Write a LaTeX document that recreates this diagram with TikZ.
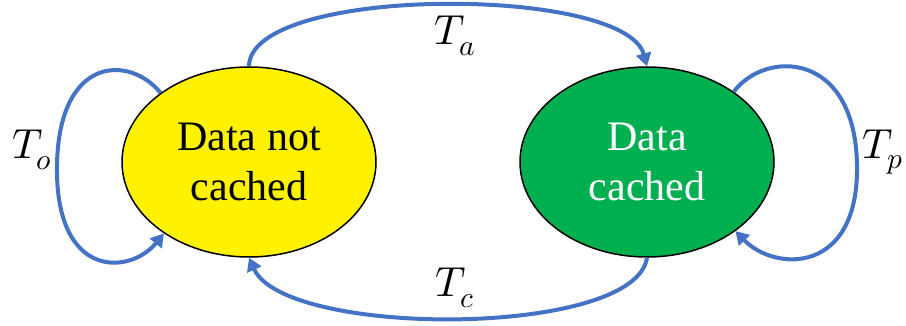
\documentclass[tikz,border=0pt]{standalone}
\usepackage{fontspec}
\usepackage{unicode-math}
\setmainfont{Liberation Serif}
\setmathfont{Latin Modern Math}
\usetikzlibrary{arrows.meta,shapes.geometric}
\definecolor{arrowblue}{RGB}{68,114,196}
\definecolor{cachegreen}{RGB}{0,176,80}
\tikzset{
  state/.style={ellipse, draw=black, line width=1.5pt, minimum width=254pt, minimum height=190pt, inner sep=0pt, align=center, font=\fontsize{42}{50}\selectfont},
  trans/.style={draw=arrowblue, line width=4pt, -{Triangle[length=13pt,width=15pt]}},
  lbl/.style={font=\fontsize{42}{48}\selectfont, inner sep=0pt}
}
\begin{document}
\begin{tikzpicture}[x=1pt,y=-1pt]
\useasboundingbox (0,0) rectangle (906,326);
\node[state, fill=yellow] (y) at (249,162) {Data not\\cached};
\node[state, fill=cachegreen, text=white] (g) at (647,162) {Data\\cached};
\draw[trans] (y.north) .. controls (250,-15) and (625,-15) .. (g.north);
\draw[trans] (g.south) .. controls (635,338) and (285,338) .. (y.south);
\coordinate (lo) at (57,165);
\coordinate (ro) at (857,165);
\draw[trans] (y.142) .. controls (130,55) and (59,55) .. (lo) .. controls (55,280) and (130,275) .. (y.220);
\draw[trans] (g.39) .. controls (765,50) and (855,50) .. (ro) .. controls (859,275) and (775,272) .. (g.322);
\node[lbl] (ta) at (455,36) {$T_a$};
\node[lbl] (tc) at (455,288) {$T_c$};
\node[lbl] (to) at (32,150) {$T_o$};
\node[lbl] (tp) at (883,152) {$T_p$};
\end{tikzpicture}
\end{document}
